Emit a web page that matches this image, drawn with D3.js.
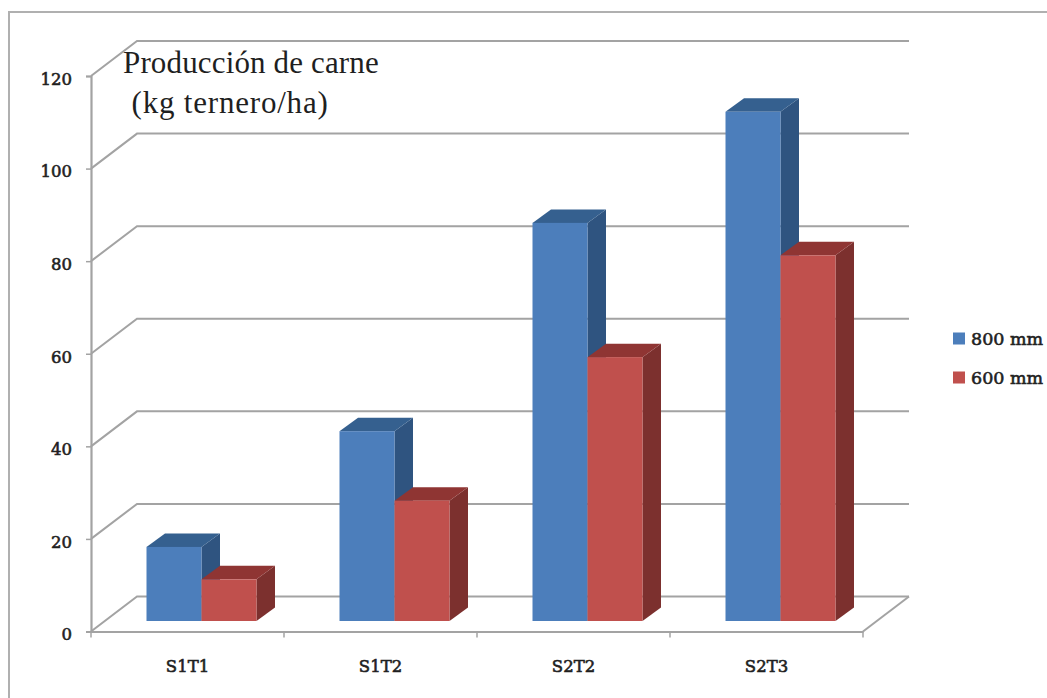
<!DOCTYPE html>
<html>
<head>
<meta charset="utf-8">
<script src="https://cdn.jsdelivr.net/npm/d3@7"></script>
<style>
  html, body { margin: 0; padding: 0; background: #fff; }
  svg { display: block; }
  text { fill: #1f1f1f; }
</style>
</head>
<body>
<svg id="chart" width="1047" height="698"></svg>
<script>
// Chart content
const categories = ["S1T1", "S1T2", "S2T2", "S2T3"];
const seriesNames = ["800 mm", "600 mm"];
const values800 = [16, 41, 86, 110];
const values600 = [9, 26, 57, 79];
const yTicks = [0, 20, 40, 60, 80, 100, 120];
const titleLines = ["Producción de carne", " (kg ternero/ha)"];

const svg = d3.select("#chart");
const labelFont = '"DejaVu Serif", serif';
const titleFont = '"Liberation Serif", serif';

// Front plane of the 3D box and the receding offset of the back walls
const x = d3.scaleBand().domain(categories).range([91, 863]);
const y = d3.scaleLinear().domain([0, 120]).range([631.5, 76]);
const wallDx = 46, wallDy = -35;

// Bars stand part of the way into the floor and have a fixed depth
const barShiftX = 14, barShiftY = -10.5;
const barDx = 18.5, barDy = -13.5;
const seriesX = d3.scaleBand().domain(seriesNames).range([0, 110]);
const groupLeft = (x.bandwidth() - seriesX.range()[1]) / 2;

const palette = {
  "800 mm": { front: "#4c7ebb", top: "#35608f", side: "#2f5480" },
  "600 mm": { front: "#c0504d", top: "#8f3533", side: "#7c302e" }
};
const gridColor = "#a3a3a3";

// Frame: only the top and left edges are drawn, running off the page
svg.append("path")
  .attr("d", d3.line()([[9, 698], [9, 12], [1047, 12]]))
  .attr("fill", "none").attr("stroke", "#b0b0b0").attr("stroke-width", 2);

// Back wall gridlines with their diagonal run along the side wall
const grid = svg.append("g").attr("fill", "none")
  .attr("stroke", gridColor).attr("stroke-width", 2);
yTicks.forEach(t => {
  grid.append("path").attr("d", d3.line()([
    [x.range()[0], y(t)],
    [x.range()[0] + wallDx, y(t) + wallDy],
    [x.range()[1] + wallDx, y(t) + wallDy]
  ]));
});
// Floor front-right edge
grid.append("path").attr("d", d3.line()([
  [x.range()[1], y(0)],
  [x.range()[1] + wallDx, y(0) + wallDy]
]));

// Axes are drawn with d3's axis generators, labels restyled afterwards
const yAxis = svg.append("g").attr("transform", `translate(${x.range()[0]},0)`)
  .call(d3.axisLeft(y).tickValues(yTicks).tickSize(5).tickPadding(14));
const xAxis = svg.append("g").attr("transform", `translate(0,${y(0)})`)
  .call(d3.axisBottom(x).tickSize(0).tickPadding(29));
// Category boundary ticks
const boundaries = categories.map(c => x(c)).concat(x.range()[1]);
xAxis.selectAll("line.boundary").data(boundaries).join("line")
  .attr("class", "boundary")
  .attr("x1", d => d).attr("x2", d => d).attr("y1", 0).attr("y2", 6)
  .attr("stroke", gridColor).attr("stroke-width", 1.5);
[yAxis, xAxis].forEach(a => {
  a.selectAll(".domain").attr("stroke", gridColor).attr("stroke-width", 2.2);
  a.selectAll(".tick line").attr("stroke", gridColor).attr("stroke-width", 1.5);
  a.selectAll(".tick text")
    .style("font-family", labelFont)
    .style("font-size", "16.5px")
    .attr("fill", "#1f1f1f")
    .attr("stroke", "#1f1f1f").attr("stroke-width", 0.6);
});
yAxis.selectAll(".tick text").attr("dy", "0.5em");

// Draw each 3D bar: back faces first, then the front face
const bars = svg.append("g");
categories.forEach((cat, i) => {
  [[seriesNames[0], values800[i]], [seriesNames[1], values600[i]]].forEach(([name, v]) => {
    const left = x(cat) + groupLeft + seriesX(name) + barShiftX;
    const right = left + seriesX.bandwidth();
    const base = y(0) + barShiftY;
    const top = base - (y(0) - y(v));
    const colors = palette[name];
    const g = bars.append("g");
    g.append("path").attr("fill", colors.side).attr("d", d3.line()([
      [right, top], [right + barDx, top + barDy], [right + barDx, base + barDy], [right, base]
    ]) + "Z");
    g.append("path").attr("fill", colors.top).attr("d", d3.line()([
      [left, top], [left + barDx, top + barDy], [right + barDx, top + barDy], [right, top]
    ]) + "Z");
    g.append("rect").attr("fill", colors.front)
      .attr("x", left).attr("y", top)
      .attr("width", right - left).attr("height", base - top);
  });
});

// Title placed inside the plot, over the top gridlines
const title = svg.append("g")
  .style("font-family", titleFont).style("font-size", "31px");
title.append("text").attr("x", 123).attr("y", 73)
  .style("letter-spacing", "0.15px").text(titleLines[0]);
title.append("text").attr("x", 123).attr("y", 113)
  .style("white-space", "pre").style("letter-spacing", "0.8px").text(titleLines[1]);

// Legend
const legendY = d3.scalePoint().domain(seriesNames).range([338.5, 377.5]);
const legend = svg.append("g");
seriesNames.forEach(name => {
  legend.append("rect")
    .attr("x", 953).attr("y", legendY(name) - 6).attr("width", 12).attr("height", 12)
    .attr("fill", palette[name].front);
  legend.append("text")
    .attr("x", 971).attr("y", legendY(name) + 6)
    .style("font-family", labelFont)
    .attr("stroke", "#1f1f1f").attr("stroke-width", 0.6)
    .style("font-size", "17.5px").text(name);
});
</script>
</body>
</html>
